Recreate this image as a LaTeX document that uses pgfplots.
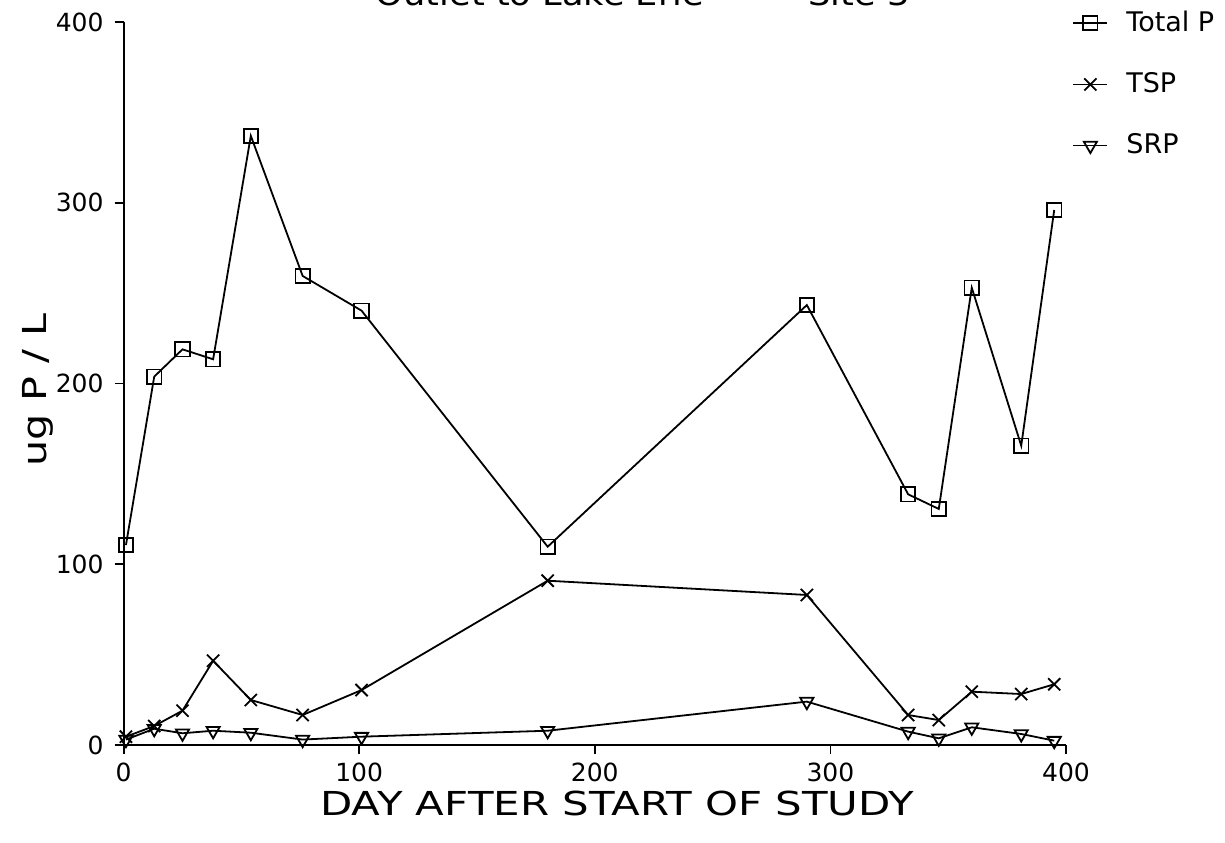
\documentclass[border=0pt]{standalone}
\usepackage{fontspec}
\setmainfont{DejaVu Sans}
\usepackage{graphicx}
\usepackage{pgfplots}
\pgfplotsset{compat=1.18}
\begin{document}
\begin{tikzpicture}
\clip (0,0) rectangle (612.5pt,421pt);
\useasboundingbox (0,0) rectangle (612.5pt,421pt);
\begin{axis}[
  at={(61.8pt,48.5pt)}, anchor=origin,
  scale only axis, width=471.2pt, height=361.5pt,
  xmin=0, xmax=400, ymin=0, ymax=400,
  axis x line=bottom, axis y line=left,
  axis line style={-, line width=1.1pt},
  xtick={0,100,200,300,400}, ytick={0,100,200,300,400},
  tick align=outside, major tick length=4.5pt,
  tick style={line width=0.9pt, black},
  /pgf/number format/assume math mode=true,
  ticklabel style={font=\fontsize{12.5}{14}\selectfont},
  xticklabel style={yshift=-1pt},
  yticklabel style={xshift=-2pt},
  xlabel={\scalebox{1.27}[1]{DAY AFTER START OF STUDY}},
  ylabel={\scalebox{1.25}[1]{ug P / L}},
  label style={font=\fontsize{16.5}{18}\selectfont},
  xlabel style={at={(axis description cs:0.5236,-0.081)}, anchor=center},
  ylabel style={at={(axis description cs:-0.0908,0.491)}, anchor=center},
  legend style={draw=none, fill=none, at={(1.0,1.0)}, anchor=north west,
    yshift=8.5pt, xshift=2pt, font=\fontsize{13.5}{15}\selectfont,
    row sep=15pt, inner sep=1pt},
  legend cell align=left,
  every axis plot/.append style={line width=0.9pt, black},
  clip=false,
]
\addplot[mark=square, mark size=3.6pt, mark options={line width=0.9pt}] coordinates {
(1,110.6) (13,203.8) (25,218.9) (38,213.4) (54,337) (76,259.5) (101,240.3)
(180,109.7) (290,243.4) (333,138.7) (346,130.6) (360,253) (381,165.6) (395,296)};
\addlegendentry{\hspace{7pt}Total P}
\addplot[mark=x, mark size=4.3pt, mark options={line width=0.9pt}] coordinates {
(1,4.6) (13,10.5) (25,19) (38,46.6) (54,24.9) (76,16.6) (101,30.4)
(180,90.9) (290,83) (333,16.6) (346,13.8) (360,29.5) (381,28.2) (395,33.6)};
\addlegendentry{\hspace{7pt}TSP}
\addplot[mark=triangle, mark size=3.8pt, mark options={rotate=180, line width=0.9pt}] coordinates {
(1,3) (13,9) (25,6.5) (38,7.9) (54,6.8) (76,3) (101,4.6)
(180,7.9) (290,24) (333,7.4) (346,3.7) (360,9.8) (381,6.1) (395,2.4)};
\addlegendentry{\hspace{7pt}SRP}
\end{axis}
\node[anchor=base, font=\fontsize{16}{18}\selectfont] at (270pt,418pt) {\scalebox{1.1}[1]{Outlet to Lake Erie}};
\node[anchor=base, font=\fontsize{16}{18}\selectfont] at (429.5pt,418pt) {\scalebox{1.1}[1]{Site 3}};
\end{tikzpicture}
\end{document}
